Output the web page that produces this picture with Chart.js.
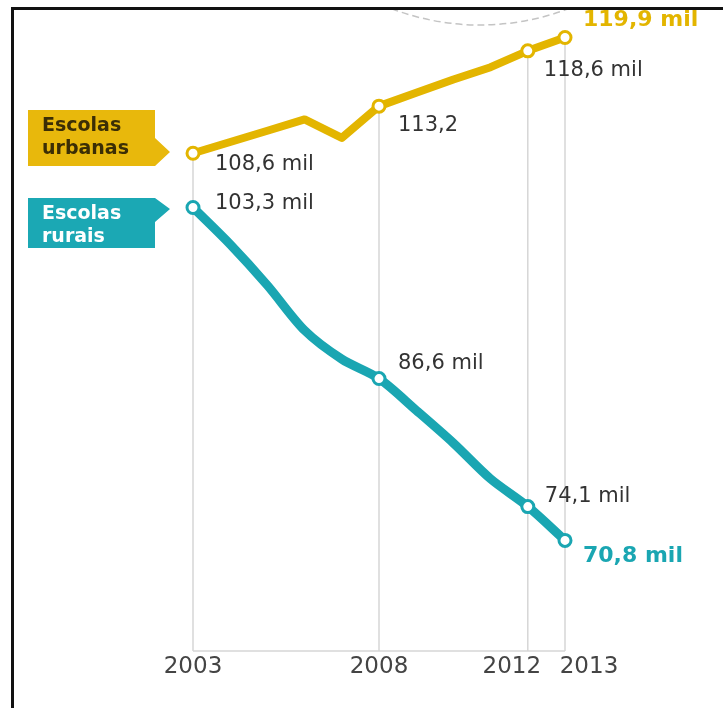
<!DOCTYPE html>
<html>
<head>
<meta charset="utf-8">
<script src="https://cdn.jsdelivr.net/npm/chart.js@4"></script>
<style>
html,body{margin:0;padding:0;background:#fff;}
canvas{display:block;}
</style>
</head>
<body>
<canvas id="c" width="723" height="708"></canvas>
<script>
const years = [2003, 2004, 2005, 2006, 2007, 2008, 2009, 2010, 2011, 2012, 2013];
const urbanValues = [108.6, 109.7, 110.8, 111.9, 110.1, 113.2, 114.5, 115.8, 117.0, 118.6, 119.9];
const ruralValues = [103.3, 99.7, 95.7, 91.3, 88.5, 86.6, 83.5, 80.3, 76.8, 74.1, 70.8];
const tickYears = [2003, 2008, 2012, 2013];
const tickLabels = ["2003", "2008", "2012", "2013"];
const urbanLabels = ["108,6 mil", "113,2", "118,6 mil", "119,9 mil"];
const ruralLabels = ["103,3 mil", "86,6 mil", "74,1 mil", "70,8 mil"];
const seriesNames = [["Escolas", "urbanas"], ["Escolas", "rurais"]];

const YELLOW = '#E3B500';
const TEAL = '#1AA6B2';

const ptRadius = years.map(y => tickYears.includes(y) ? 6 : 0);

const decor = {
  id: 'decor',
  beforeDatasetsDraw(chart) {
    const ctx = chart.ctx;
    const xs = chart.scales.x, ys = chart.scales.y;
    ctx.save();
    // dashed arc at top
    ctx.beginPath();
    ctx.rect(13, 10, 710, 100);
    ctx.clip();
    ctx.beginPath();
    ctx.setLineDash([7, 4]);
    ctx.strokeStyle = '#c4c4c4';
    ctx.lineWidth = 1.5;
    ctx.arc(480, -223, 248, 0, Math.PI);
    ctx.stroke();
    ctx.restore();

    ctx.save();
    ctx.strokeStyle = '#d6d6d6';
    ctx.lineWidth = 1.5;
    const bottom = ys.getPixelForValue(ys.min);
    tickYears.forEach(yr => {
      const i = years.indexOf(yr);
      const x = xs.getPixelForValue(yr);
      const yTop = ys.getPixelForValue(urbanValues[i]);
      ctx.beginPath();
      ctx.moveTo(x, yTop);
      ctx.lineTo(x, bottom);
      ctx.stroke();
    });
    ctx.beginPath();
    ctx.moveTo(xs.getPixelForValue(tickYears[0]), bottom);
    ctx.lineTo(xs.getPixelForValue(tickYears[tickYears.length - 1]), bottom);
    ctx.stroke();

    // tick labels
    const tickDx = [0, 0, -16, 24];
    ctx.fillStyle = '#444';
    ctx.font = '23px "DejaVu Sans"';
    ctx.textAlign = 'center';
    ctx.textBaseline = 'middle';
    tickYears.forEach((yr, k) => {
      ctx.fillText(tickLabels[k], xs.getPixelForValue(yr) + tickDx[k], bottom + 16);
    });
    ctx.restore();
  },
  afterDatasetsDraw(chart) {
    const ctx = chart.ctx;
    const xs = chart.scales.x, ys = chart.scales.y;
    ctx.save();
    ctx.textAlign = 'left';
    ctx.textBaseline = 'middle';
    const uOff = [[22, 11], [19, 19], [16, 20], [18, -17]];
    const rOff = [[22, -4], [19, -15], [17, -10], [18, 16]];
    tickYears.forEach((yr, k) => {
      const i = years.indexOf(yr);
      const x = xs.getPixelForValue(yr);
      const last = k === tickYears.length - 1;
      ctx.font = last ? 'bold 22px "DejaVu Sans"' : '21px "DejaVu Sans"';
      ctx.fillStyle = last ? YELLOW : '#333';
      ctx.fillText(urbanLabels[k], x + uOff[k][0], ys.getPixelForValue(urbanValues[i]) + uOff[k][1]);
      ctx.fillStyle = last ? TEAL : '#333';
      ctx.fillText(ruralLabels[k], x + rOff[k][0], ys.getPixelForValue(ruralValues[i]) + rOff[k][1]);
    });

    // legend tags
    function tag(top, bottom, tipY, pTop, pBot, fill, textColor, lines) {
      ctx.beginPath();
      ctx.moveTo(28, top);
      ctx.lineTo(155, top);
      ctx.lineTo(155, pTop);
      ctx.lineTo(170, tipY);
      ctx.lineTo(155, pBot);
      ctx.lineTo(155, bottom);
      ctx.lineTo(28, bottom);
      ctx.closePath();
      ctx.fillStyle = fill;
      ctx.fill();
      ctx.fillStyle = textColor;
      ctx.font = 'bold 19px "DejaVu Sans"';
      ctx.textAlign = 'left';
      ctx.fillText(lines[0], 42, top + 16);
      ctx.fillText(lines[1], 42, top + 39);
    }
    tag(110, 166, 152, 138, 166, '#E8B80C', '#3b2e05', seriesNames[0]);
    tag(198, 248, 209, 198, 222, '#1BA8B4', '#ffffff', seriesNames[1]);

    // frame (top and left)
    ctx.fillStyle = '#111';
    ctx.fillRect(11, 7, 712, 3);
    ctx.fillRect(11, 7, 3, 701);
    ctx.restore();
  }
};

new Chart(document.getElementById('c'), {
  type: 'line',
  data: {
    datasets: [
      {
        label: 'Escolas urbanas',
        data: years.map((y, i) => ({x: y, y: urbanValues[i]})),
        borderColor: YELLOW,
        borderWidth: 8,
        tension: 0,
        borderJoinStyle: 'round',
        borderCapStyle: 'round',
        pointRadius: ptRadius,
        pointBackgroundColor: '#fff',
        pointBorderColor: YELLOW,
        pointBorderWidth: 3,
        clip: false
      },
      {
        label: 'Escolas rurais',
        data: years.map((y, i) => ({x: y, y: ruralValues[i]})),
        borderColor: TEAL,
        borderWidth: 9,
        tension: 0.3,
        borderJoinStyle: 'round',
        borderCapStyle: 'round',
        pointRadius: ptRadius,
        pointBackgroundColor: '#fff',
        pointBorderColor: TEAL,
        pointBorderWidth: 3,
        clip: false
      }
    ]
  },
  options: {
    responsive: false,
    maintainAspectRatio: false,
    animation: false,
    devicePixelRatio: 1,
    layout: {padding: {left: 193, right: 158, top: 16, bottom: 57}},
    plugins: {legend: {display: false}, tooltip: {enabled: false}},
    scales: {
      x: {type: 'linear', min: 2003, max: 2013, display: false},
      y: {type: 'linear', min: 60, max: 122, display: false}
    }
  },
  plugins: [decor]
});
</script>
</body>
</html>
